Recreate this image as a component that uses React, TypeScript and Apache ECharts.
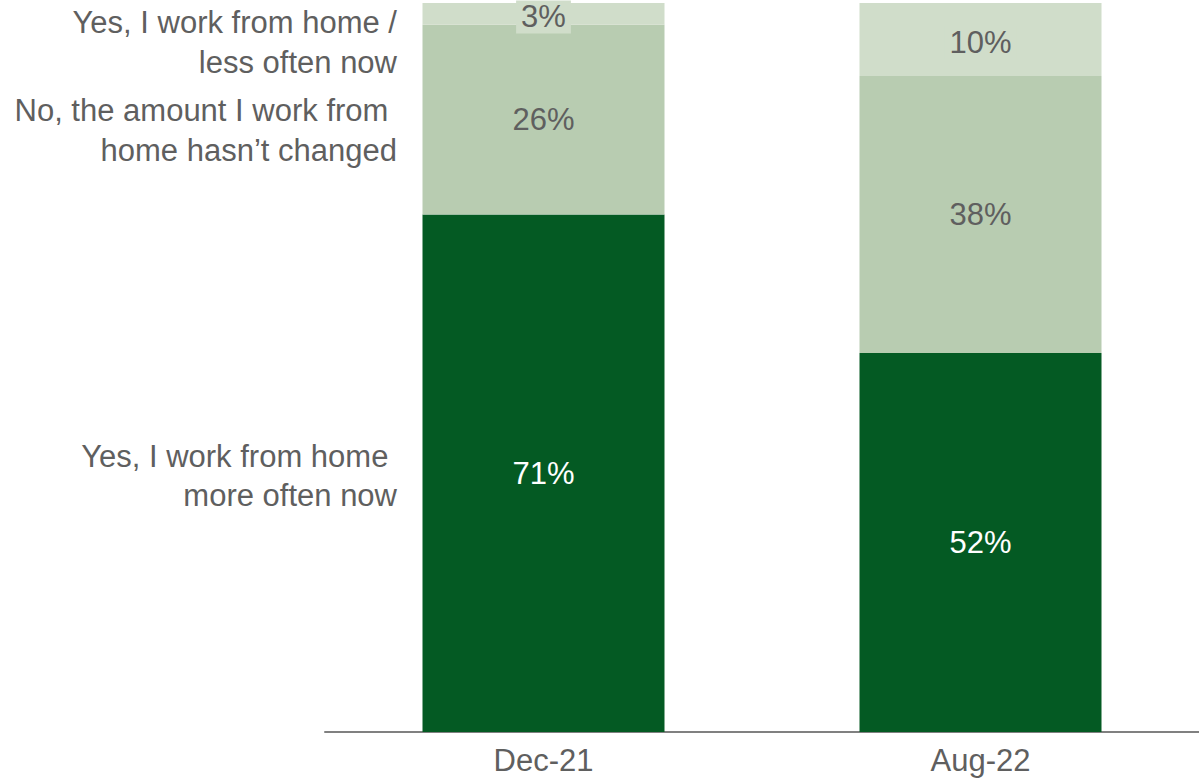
import React, { useEffect, useRef } from "react";
import * as echarts from "echarts";

const categories = ["Dec-21", "Aug-22"];
const seriesNames = [
  "Yes, I work from home more often now",
  "No, the amount I work from home hasn't changed",
  "Yes, I work from home less often now",
];
const moreOften = [71, 52];
const unchanged = [26, 38];
const lessOften = [3, 10];

const legendLines = [
  { text: "Yes, I work from home /", y: 22 },
  { text: "less often now", y: 62 },
  { text: "No, the amount I work from ", y: 110 },
  { text: "home hasn\u2019t changed", y: 150 },
  { text: "Yes, I work from home ", y: 456 },
  { text: "more often now", y: 495 },
];

const FONT = "'Liberation Sans', Arial, sans-serif";
const GRAY = "#5f5f5f";
const FS = 31;

export default function App() {
  const ref = useRef<HTMLDivElement>(null);
  useEffect(() => {
    if (!ref.current) return;
    const chart = echarts.init(ref.current, undefined, { renderer: "svg" });
    const labelBase = {
      show: true,
      position: "inside",
      fontSize: FS,
      fontFamily: FONT,
      formatter: (p: any) => p.value + "%",
    };
    chart.setOption({
      animation: false,
      grid: { left: 325, right: 0, top: 3, bottom: 50 },
      xAxis: {
        type: "category",
        data: categories,
        axisLine: { lineStyle: { color: "#808080", width: 2 } },
        axisTick: { show: false },
        axisLabel: { color: GRAY, fontSize: FS, fontFamily: FONT, margin: 13 },
      },
      yAxis: {
        type: "value",
        min: 0,
        max: 100,
        show: false,
        splitLine: { show: false },
      },
      series: [
        {
          name: seriesNames[0],
          type: "bar",
          stack: "a",
          barWidth: 242,
          data: moreOften,
          itemStyle: { color: "#045a23" },
          label: { ...labelBase, color: "#ffffff" },
        },
        {
          name: seriesNames[1],
          type: "bar",
          stack: "a",
          barWidth: 242,
          data: unchanged,
          itemStyle: { color: "#b8ccb1" },
          label: { ...labelBase, color: GRAY },
        },
        {
          name: seriesNames[2],
          type: "bar",
          stack: "a",
          barWidth: 242,
          data: lessOften,
          itemStyle: { color: "#d0ddca" },
          label: {
            ...labelBase,
            color: GRAY,
            backgroundColor: "#d0ddca",
            padding: [0, 5, 2, 5],
            offset: [0, 3],
          },
        },
      ],
      graphic: legendLines.map((g) => ({
        type: "text",
        x: 397,
        y: g.y,
        style: {
          text: g.text,
          fontSize: FS,
          fontFamily: FONT,
          fill: GRAY,
          align: "right",
          verticalAlign: "middle",
        },
      })),
    });
    return () => chart.dispose();
  }, []);
  return <div ref={ref} style={{ width: 1199, height: 782, position: "absolute", left: 0, top: 0 }} />;
}
